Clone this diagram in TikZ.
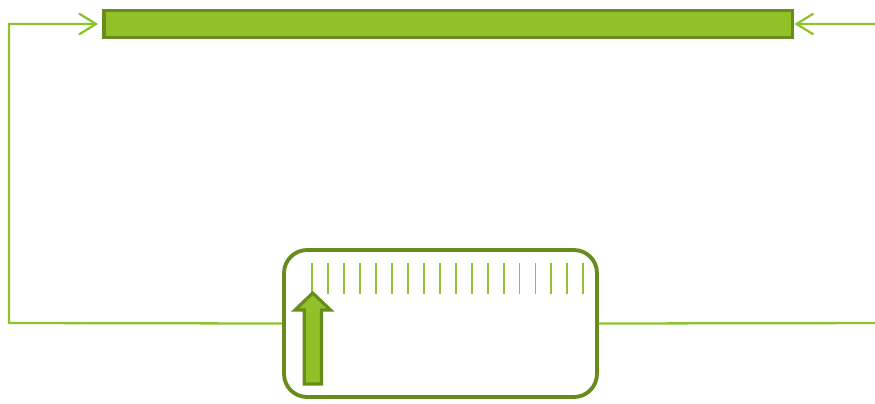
\documentclass[tikz,border=0pt]{standalone}
\usepackage{tikz}
\usetikzlibrary{arrows.meta, positioning, calc}

\begin{document}
\begin{tikzpicture}[
    x=0.02cm, y=-0.02cm
]
% Define colors
\definecolor{barfill}{RGB}{145,193,38}
\definecolor{bardark}{RGB}{104,140,28}
\definecolor{linkgreen}{RGB}{141,196,45}

% Styles
\tikzset{
    barbox/.style={draw=bardark, fill=barfill, line width=2.2pt,
        minimum width=13.78cm, minimum height=0.54cm, inner sep=0pt},
    gaugebox/.style={draw=bardark, fill=white, line width=2.2pt, rounded corners=0.46cm,
        minimum width=6.26cm, minimum height=2.94cm, inner sep=0pt},
    link/.style={draw=linkgreen, line width=1.3pt,
        -{Straight Barb[length=0.34cm, width=0.42cm, line width=1.3pt]}},
    tick/.style={draw=linkgreen, line width=1.1pt},
    pointer/.style={draw=bardark, fill=barfill, line width=1.8pt, line join=miter}
}

% Positions
\def\rowBar{24}    % top bar
\def\rowLink{323}  % connector height
\def\tickTop{263}
\def\tickBot{294}

\useasboundingbox (0,0) rectangle (875,403);

% Top bar and gauge
\node[barbox] (bar) at (448,\rowBar) {};
\node[gaugebox] (gauge) at (440.5,323.5) {};

% Turning points
\coordinate (lturn) at (9,\rowLink);
\coordinate (rturn) at (895,\rowLink);

% Connectors
\draw[link, shorten >=2pt] (gauge.west) -- (lturn) |- (bar.west);
\draw[link] (gauge.east) -- (rturn) |- (bar.east);

% Scale ticks
\foreach \i in {0,...,17}
    \draw[tick] ({312.3+15.94*\i},\tickTop) -- ({312.3+15.94*\i},\tickBot);

% Pointer
\filldraw[pointer] (304.3,384) -- (304.3,310) -- (295,310) -- (312.7,293)
    -- (330.5,310) -- (321.5,310) -- (321.5,384) -- cycle;

\end{tikzpicture}
\end{document}
